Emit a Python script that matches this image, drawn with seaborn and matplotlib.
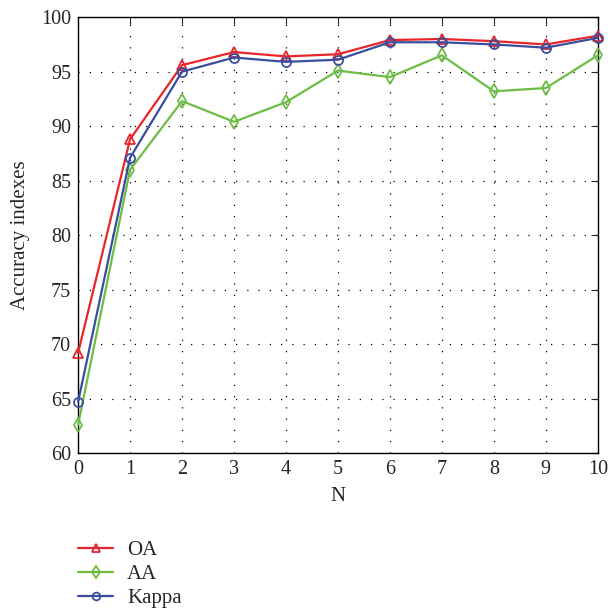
import pandas as pd
import matplotlib
matplotlib.use("Agg")
import matplotlib.pyplot as plt
import seaborn as sns

# data
n_values = [0, 1, 2, 3, 4, 5, 6, 7, 8, 9, 10]
oa = [69.2, 88.8, 95.6, 96.8, 96.4, 96.6, 97.9, 98.0, 97.8, 97.5, 98.3]
aa = [62.6, 86.0, 92.3, 90.4, 92.2, 95.1, 94.5, 96.5, 93.2, 93.5, 96.5]
kappa = [64.7, 87.1, 95.0, 96.3, 95.9, 96.1, 97.7, 97.7, 97.5, 97.2, 98.1]

series = {"OA": oa, "AA": aa, "Kappa": kappa}
colors = {"OA": "#e8252b", "AA": "#6cbd45", "Kappa": "#3a4e9f"}
markers = {"OA": "^", "AA": "d", "Kappa": "o"}
msizes = {"OA": 7.5, "AA": 7, "Kappa": 6.5}

sns.set_style("white")
plt.rcParams["font.family"] = ["Liberation Serif", "DejaVu Serif"]

fig = plt.figure(figsize=(6.1, 6.14), dpi=100)
ax = fig.add_axes([0.128, 0.262, 0.852, 0.710])

for name, vals in series.items():
    df = pd.DataFrame({"N": n_values, "value": vals})
    sns.lineplot(data=df, x="N", y="value", ax=ax, color=colors[name],
                 marker=markers[name], markersize=msizes[name],
                 mfc="none", mec=colors[name], mew=1.3, linewidth=1.6,
                 label=name, legend=False, clip_on=False, zorder=3)

ax.set_xlim(0, 10)
ax.set_ylim(60, 100)
ax.set_xticks(range(0, 11))
ax.set_yticks(range(60, 101, 5))
ax.tick_params(direction="in", top=True, right=True, length=5, labelsize=14.5,
               width=0.8, pad=5)
ax.grid(True, color="black", linestyle=(0, (1, 8)), linewidth=0.9)
for s in ax.spines.values():
    s.set_color("black")
    s.set_linewidth(1.0)

ax.set_xlabel("N", fontsize=15, labelpad=6)
ax.set_ylabel("Accuracy indexes", fontsize=15, labelpad=8)

handles, labels = ax.get_legend_handles_labels()
fig.legend(handles, labels, loc="upper left", bbox_to_anchor=(0.128, 0.120),
           frameon=False, fontsize=15, handlelength=1.7, labelspacing=0.22,
           handletextpad=0.65, borderaxespad=0, borderpad=0, markerscale=0.85)

fig.savefig("out.png", dpi=100)
